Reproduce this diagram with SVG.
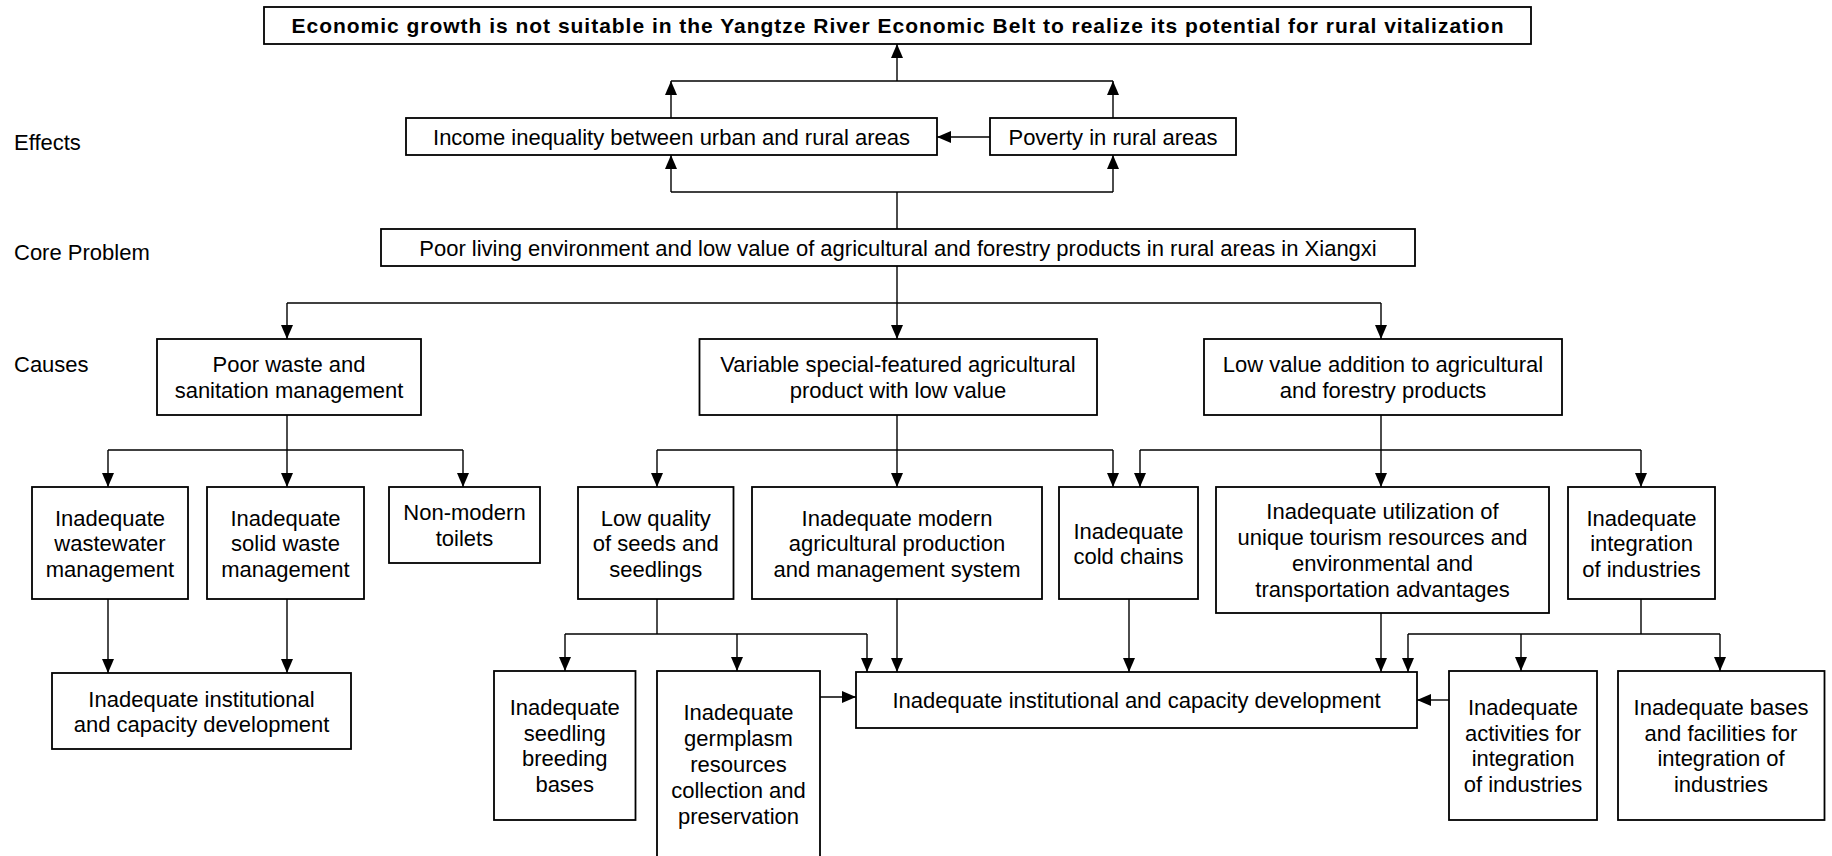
<svg xmlns="http://www.w3.org/2000/svg" width="1832" height="856" viewBox="0 0 1832 856">
<style>
text{font-family:"Liberation Sans",Arial,sans-serif;font-size:22px;fill:#000;text-anchor:middle}
.lbl{text-anchor:start}
.bold{font-weight:bold;font-size:21px}
rect{fill:#fff;stroke:#000;stroke-width:1.8}
.c path{fill:none;stroke:#000;stroke-width:1.4}
</style>
<defs>
<marker id="ah" markerUnits="userSpaceOnUse" markerWidth="14" markerHeight="12" viewBox="0 0 14 12" refX="14" refY="6" orient="auto">
<path d="M0,0 L14,6 L0,12 z" fill="#000"/>
</marker>
</defs>
<rect width="1832" height="856" style="fill:#fff;stroke:none"/>
<g id="labels">
<text class="lbl" x="14" y="150">Effects</text>
<text class="lbl" x="14" y="260">Core Problem</text>
<text class="lbl" x="14" y="372">Causes</text>
</g>
<g class="c" id="connectors">
<path d="M671,118 V81" marker-end="url(#ah)"/>
<path d="M1113,118 V81" marker-end="url(#ah)"/>
<path d="M671,81 H1113"/>
<path d="M897,81 V44" marker-end="url(#ah)"/>
<path d="M990,137 H937" marker-end="url(#ah)"/>
<path d="M897,229 V192"/>
<path d="M671,192 H1113"/>
<path d="M671,192 V155" marker-end="url(#ah)"/>
<path d="M1113,192 V155" marker-end="url(#ah)"/>
<path d="M897,266 V339" marker-end="url(#ah)"/>
<path d="M287,303 H1381"/>
<path d="M287,303 V339" marker-end="url(#ah)"/>
<path d="M1381,303 V339" marker-end="url(#ah)"/>
<path d="M287,415 V487" marker-end="url(#ah)"/>
<path d="M108,450 H463"/>
<path d="M108,450 V487" marker-end="url(#ah)"/>
<path d="M463,450 V487" marker-end="url(#ah)"/>
<path d="M897,415 V487" marker-end="url(#ah)"/>
<path d="M657,450 H1113"/>
<path d="M657,450 V487" marker-end="url(#ah)"/>
<path d="M1113,450 V487" marker-end="url(#ah)"/>
<path d="M1381,415 V487" marker-end="url(#ah)"/>
<path d="M1140,450 H1641"/>
<path d="M1140,450 V487" marker-end="url(#ah)"/>
<path d="M1641,450 V487" marker-end="url(#ah)"/>
<path d="M108,599 V673" marker-end="url(#ah)"/>
<path d="M287,599 V673" marker-end="url(#ah)"/>
<path d="M657,599 V634"/>
<path d="M565,634 H867"/>
<path d="M565,634 V671" marker-end="url(#ah)"/>
<path d="M737,634 V671" marker-end="url(#ah)"/>
<path d="M867,634 V672" marker-end="url(#ah)"/>
<path d="M897,599 V672" marker-end="url(#ah)"/>
<path d="M820,697 H856" marker-end="url(#ah)"/>
<path d="M1129,599 V672" marker-end="url(#ah)"/>
<path d="M1381,613 V672" marker-end="url(#ah)"/>
<path d="M1641,599 V634"/>
<path d="M1408,634 H1720"/>
<path d="M1408,634 V672" marker-end="url(#ah)"/>
<path d="M1521,634 V671" marker-end="url(#ah)"/>
<path d="M1720,634 V671" marker-end="url(#ah)"/>
<path d="M1449,700 H1417" marker-end="url(#ah)"/>
</g>
<g id="n-top">
<rect x="264" y="7" width="1267" height="37"/>
<text class="bold" x="897.5" y="32.5" textLength="1212" lengthAdjust="spacing">Economic growth is not suitable in the Yangtze River Economic Belt to realize its potential for rural vitalization</text>
</g>
<g id="n-income">
<rect x="406" y="118" width="531" height="37"/>
<text x="671.5" y="144.5">Income inequality between urban and rural areas</text>
</g>
<g id="n-poverty">
<rect x="990" y="118" width="246" height="37"/>
<text x="1113" y="144.5">Poverty in rural areas</text>
</g>
<g id="n-core">
<rect x="381" y="229" width="1034" height="37"/>
<text x="898" y="255.5">Poor living environment and low value of agricultural and forestry products in rural areas in Xiangxi</text>
</g>
<g id="n-waste">
<rect x="157" y="339" width="264" height="76"/>
<text x="289" y="372">Poor waste and</text>
<text x="289" y="397.5">sanitation management</text>
</g>
<g id="n-variable">
<rect x="699.5" y="339" width="397.5" height="76"/>
<text x="898" y="372">Variable special-featured agricultural</text>
<text x="898" y="397.5">product with low value</text>
</g>
<g id="n-lowvalue">
<rect x="1204" y="339" width="358" height="76"/>
<text x="1383" y="372">Low value addition to agricultural</text>
<text x="1383" y="397.5">and forestry products</text>
</g>
<g id="n-wastewater">
<rect x="32" y="487" width="156" height="112"/>
<text x="110" y="525.5">Inadequate</text>
<text x="110" y="551">wastewater</text>
<text x="110" y="576.5">management</text>
</g>
<g id="n-solid">
<rect x="207" y="487" width="157" height="112"/>
<text x="285.5" y="525.5">Inadequate</text>
<text x="285.5" y="551">solid waste</text>
<text x="285.5" y="576.5">management</text>
</g>
<g id="n-toilets">
<rect x="389" y="487" width="151" height="76"/>
<text x="464.5" y="520">Non-modern</text>
<text x="464.5" y="545.5">toilets</text>
</g>
<g id="n-seeds">
<rect x="578" y="487" width="155.5" height="112"/>
<text x="655.75" y="525.5">Low quality</text>
<text x="655.75" y="551">of seeds and</text>
<text x="655.75" y="576.5">seedlings</text>
</g>
<g id="n-modern">
<rect x="752" y="487" width="290" height="112"/>
<text x="897" y="525.5">Inadequate modern</text>
<text x="897" y="551">agricultural production</text>
<text x="897" y="576.5">and management system</text>
</g>
<g id="n-cold">
<rect x="1059" y="487" width="139" height="112"/>
<text x="1128.5" y="538.5">Inadequate</text>
<text x="1128.5" y="564">cold chains</text>
</g>
<g id="n-tourism">
<rect x="1216" y="487" width="333" height="126"/>
<text x="1382.5" y="519">Inadequate utilization of</text>
<text x="1382.5" y="545">unique tourism resources and</text>
<text x="1382.5" y="571">environmental and</text>
<text x="1382.5" y="597">transportation advantages</text>
</g>
<g id="n-integration">
<rect x="1568" y="487" width="147" height="112"/>
<text x="1641.5" y="525.5">Inadequate</text>
<text x="1641.5" y="551">integration</text>
<text x="1641.5" y="576.5">of industries</text>
</g>
<g id="n-inst-left">
<rect x="52" y="673" width="299" height="76"/>
<text x="201.5" y="706.5">Inadequate institutional</text>
<text x="201.5" y="732">and capacity development</text>
</g>
<g id="n-breeding">
<rect x="494" y="671" width="141.5" height="149"/>
<text x="564.75" y="715">Inadequate</text>
<text x="564.75" y="740.5">seedling</text>
<text x="564.75" y="766">breeding</text>
<text x="564.75" y="791.5">bases</text>
</g>
<g id="n-germplasm">
<rect x="657" y="671" width="163" height="200"/>
<text x="738.5" y="720">Inadequate</text>
<text x="738.5" y="746">germplasm</text>
<text x="738.5" y="772">resources</text>
<text x="738.5" y="798">collection and</text>
<text x="738.5" y="824">preservation</text>
</g>
<g id="n-inst-center">
<rect x="856" y="672" width="561" height="56"/>
<text x="1136.5" y="708">Inadequate institutional and capacity development</text>
</g>
<g id="n-activities">
<rect x="1449" y="671" width="148" height="149"/>
<text x="1523" y="715">Inadequate</text>
<text x="1523" y="740.5">activities for</text>
<text x="1523" y="766">integration</text>
<text x="1523" y="791.5">of industries</text>
</g>
<g id="n-bases">
<rect x="1618" y="671" width="206.5" height="149"/>
<text x="1721" y="715">Inadequate bases</text>
<text x="1721" y="740.5">and facilities for</text>
<text x="1721" y="766">integration of</text>
<text x="1721" y="791.5">industries</text>
</g>
</svg>
